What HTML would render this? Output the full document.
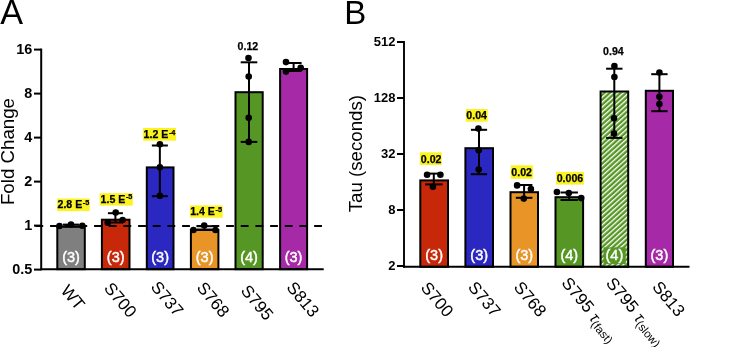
<!DOCTYPE html><html><head><meta charset="utf-8"><style>html,body{margin:0;padding:0;background:#fff;width:742px;height:347px;overflow:hidden}svg{display:block;will-change:transform}text{font-family:"Liberation Sans",sans-serif}</style></head><body>
<svg width="742" height="347" viewBox="0 0 742 347">
<defs><pattern id="hatch" patternUnits="userSpaceOnUse" width="3.65" height="10" patternTransform="rotate(48)"><rect width="3.65" height="10" fill="#569624"/><rect x="0" y="0" width="1.3" height="10" fill="#fff"/></pattern></defs>
<text x="0.2" y="23.8" font-size="34.2">A</text>
<text x="344.3" y="23.8" font-size="33">B</text>
<rect x="57.30" y="226.60" width="27.50" height="42.60" fill="#7f7f7f" stroke="#000" stroke-width="2"/>
<text x="71.05" y="261.8" font-size="14.5" fill="#fff" stroke="#fff" stroke-width="0.45" text-anchor="middle">(3)</text>
<rect x="101.90" y="219.70" width="27.60" height="49.50" fill="#c8280a" stroke="#000" stroke-width="2"/>
<text x="115.70" y="261.8" font-size="14.5" fill="#fff" stroke="#fff" stroke-width="0.45" text-anchor="middle">(3)</text>
<rect x="146.80" y="167.40" width="26.70" height="101.80" fill="#2a28c0" stroke="#000" stroke-width="2"/>
<text x="160.15" y="261.8" font-size="14.5" fill="#fff" stroke="#fff" stroke-width="0.45" text-anchor="middle">(3)</text>
<rect x="190.90" y="230.00" width="27.50" height="39.20" fill="#e89426" stroke="#000" stroke-width="2"/>
<text x="204.65" y="261.8" font-size="14.5" fill="#fff" stroke="#fff" stroke-width="0.45" text-anchor="middle">(3)</text>
<rect x="235.50" y="92.20" width="27.20" height="177.00" fill="#569624" stroke="#000" stroke-width="2"/>
<text x="249.10" y="261.8" font-size="14.5" fill="#fff" stroke="#fff" stroke-width="0.45" text-anchor="middle">(4)</text>
<rect x="280.10" y="69.00" width="27.00" height="200.20" fill="#a62aa8" stroke="#000" stroke-width="2"/>
<text x="293.60" y="261.8" font-size="14.5" fill="#fff" stroke="#fff" stroke-width="0.45" text-anchor="middle">(3)</text>
<line x1="115.40" y1="213.20" x2="115.40" y2="222.50" stroke="#000" stroke-width="2"/>
<line x1="107.90" y1="213.20" x2="122.90" y2="213.20" stroke="#000" stroke-width="2"/>
<line x1="107.90" y1="222.50" x2="122.90" y2="222.50" stroke="#000" stroke-width="2"/>
<line x1="159.85" y1="145.50" x2="159.85" y2="196.20" stroke="#000" stroke-width="2"/>
<line x1="151.85" y1="145.50" x2="167.85" y2="145.50" stroke="#000" stroke-width="2"/>
<line x1="151.85" y1="196.20" x2="167.85" y2="196.20" stroke="#000" stroke-width="2"/>
<line x1="249.00" y1="62.30" x2="249.00" y2="141.90" stroke="#000" stroke-width="2"/>
<line x1="240.70" y1="62.30" x2="257.30" y2="62.30" stroke="#000" stroke-width="2"/>
<line x1="240.70" y1="141.90" x2="257.30" y2="141.90" stroke="#000" stroke-width="2"/>
<line x1="293.60" y1="63.00" x2="293.60" y2="71.00" stroke="#000" stroke-width="2"/>
<line x1="285.60" y1="63.00" x2="301.60" y2="63.00" stroke="#000" stroke-width="2"/>
<line x1="285.60" y1="71.00" x2="301.60" y2="71.00" stroke="#000" stroke-width="2"/>
<line x1="71.00" y1="224.60" x2="71.00" y2="226.60" stroke="#000" stroke-width="2"/>
<line x1="63.00" y1="224.60" x2="79.00" y2="224.60" stroke="#000" stroke-width="2"/>
<line x1="63.00" y1="226.60" x2="79.00" y2="226.60" stroke="#000" stroke-width="2"/>
<line x1="204.50" y1="226.20" x2="204.50" y2="229.50" stroke="#000" stroke-width="2"/>
<line x1="196.50" y1="226.20" x2="212.50" y2="226.20" stroke="#000" stroke-width="2"/>
<line x1="196.50" y1="229.50" x2="212.50" y2="229.50" stroke="#000" stroke-width="2"/>
<line x1="35.40" y1="226.00" x2="322.40" y2="226.00" stroke="#000" stroke-width="2" stroke-dasharray="7.8 6.87"/>
<circle cx="59.50" cy="226.00" r="3.3" fill="#000"/>
<circle cx="71.00" cy="224.50" r="3.3" fill="#000"/>
<circle cx="82.30" cy="225.70" r="3.3" fill="#000"/>
<circle cx="115.70" cy="212.50" r="3.3" fill="#000"/>
<circle cx="122.60" cy="220.10" r="3.3" fill="#000"/>
<circle cx="107.70" cy="222.80" r="3.3" fill="#000"/>
<circle cx="159.90" cy="144.30" r="3.3" fill="#000"/>
<circle cx="159.90" cy="167.30" r="3.3" fill="#000"/>
<circle cx="159.90" cy="195.70" r="3.3" fill="#000"/>
<circle cx="193.40" cy="230.00" r="3.3" fill="#000"/>
<circle cx="204.20" cy="225.50" r="3.3" fill="#000"/>
<circle cx="215.50" cy="230.00" r="3.3" fill="#000"/>
<circle cx="248.50" cy="58.00" r="3.3" fill="#000"/>
<circle cx="248.70" cy="76.50" r="3.3" fill="#000"/>
<circle cx="248.70" cy="117.70" r="3.3" fill="#000"/>
<circle cx="248.70" cy="141.90" r="3.3" fill="#000"/>
<circle cx="286.00" cy="62.10" r="3.3" fill="#000"/>
<circle cx="300.70" cy="67.70" r="3.3" fill="#000"/>
<circle cx="286.00" cy="71.60" r="3.3" fill="#000"/>
<line x1="41.20" y1="48.60" x2="41.20" y2="270.20" stroke="#000" stroke-width="2.0"/>
<line x1="40.20" y1="269.20" x2="323.70" y2="269.20" stroke="#000" stroke-width="2.0"/>
<line x1="34.00" y1="49.60" x2="41.20" y2="49.60" stroke="#000" stroke-width="2"/>
<text x="32.2" y="54.3" font-size="14.4" font-weight="bold" text-anchor="end">16</text>
<line x1="34.00" y1="93.60" x2="41.20" y2="93.60" stroke="#000" stroke-width="2"/>
<text x="32.2" y="98.3" font-size="14.4" font-weight="bold" text-anchor="end">8</text>
<line x1="34.00" y1="137.60" x2="41.20" y2="137.60" stroke="#000" stroke-width="2"/>
<text x="32.2" y="142.3" font-size="14.4" font-weight="bold" text-anchor="end">4</text>
<line x1="34.00" y1="181.60" x2="41.20" y2="181.60" stroke="#000" stroke-width="2"/>
<text x="32.2" y="186.3" font-size="14.4" font-weight="bold" text-anchor="end">2</text>
<line x1="34.00" y1="225.60" x2="41.20" y2="225.60" stroke="#000" stroke-width="2"/>
<text x="32.2" y="230.3" font-size="14.4" font-weight="bold" text-anchor="end">1</text>
<line x1="34.00" y1="269.60" x2="41.20" y2="269.60" stroke="#000" stroke-width="2"/>
<text x="32.2" y="274.3" font-size="14.4" font-weight="bold" text-anchor="end">0.5</text>
<text transform="translate(14.1,151.55) rotate(-90)" font-size="18.7" text-anchor="middle">Fold Change</text>
<rect x="57.1" y="198.5" width="32.60" height="12.60" fill="#fbf422"/>
<text x="57.50" y="208.10" font-size="10.6" font-weight="bold" stroke="#000" stroke-width="0.25">2.8 E<tspan font-size="7.3" dx="0.6" dy="-3.4">-5</tspan></text>
<rect x="99.6" y="193.2" width="33.20" height="12.40" fill="#fbf422"/>
<text x="100.60" y="202.70" font-size="10.6" font-weight="bold" stroke="#000" stroke-width="0.25">1.5 E<tspan font-size="7.3" dx="0.6" dy="-3.4">-5</tspan></text>
<rect x="143.1" y="128.0" width="32.90" height="12.70" fill="#fbf422"/>
<text x="143.60" y="138.30" font-size="10.6" font-weight="bold" stroke="#000" stroke-width="0.25">1.2 E<tspan font-size="7.3" dx="0.6" dy="-3.4">-4</tspan></text>
<rect x="189.9" y="205.4" width="32.80" height="12.30" fill="#fbf422"/>
<text x="190.20" y="215.40" font-size="10.6" font-weight="bold" stroke="#000" stroke-width="0.25">1.4 E<tspan font-size="7.3" dx="0.6" dy="-3.4">-5</tspan></text>
<text x="237.60" y="49.70" font-size="10.6" font-weight="bold" stroke="#000" stroke-width="0.25">0.12</text>
<text transform="translate(59.95,290.9) rotate(50)" font-size="17">WT</text>
<text transform="translate(103.2,288.4) rotate(50)" font-size="17">S700</text>
<text transform="translate(150.0,287.2) rotate(50)" font-size="17">S737</text>
<text transform="translate(196.0,288.0) rotate(50)" font-size="17">S768</text>
<text transform="translate(240.0,291.0) rotate(50)" font-size="17">S795</text>
<text transform="translate(285.7,287.85) rotate(50)" font-size="17">S813</text>
<rect x="420.30" y="180.40" width="27.70" height="86.40" fill="#c8280a" stroke="#000" stroke-width="2"/>
<text x="434.15" y="259.8" font-size="14.5" fill="#fff" stroke="#fff" stroke-width="0.45" text-anchor="middle">(3)</text>
<rect x="465.40" y="148.20" width="27.60" height="118.60" fill="#2a28c0" stroke="#000" stroke-width="2"/>
<text x="479.20" y="259.8" font-size="14.5" fill="#fff" stroke="#fff" stroke-width="0.45" text-anchor="middle">(3)</text>
<rect x="510.50" y="192.20" width="27.50" height="74.60" fill="#e89426" stroke="#000" stroke-width="2"/>
<text x="524.25" y="259.8" font-size="14.5" fill="#fff" stroke="#fff" stroke-width="0.45" text-anchor="middle">(3)</text>
<rect x="555.50" y="197.20" width="27.60" height="69.60" fill="#569624" stroke="#000" stroke-width="2"/>
<text x="569.30" y="259.8" font-size="14.5" fill="#fff" stroke="#fff" stroke-width="0.45" text-anchor="middle">(4)</text>
<rect x="600.60" y="91.50" width="27.60" height="175.30" fill="url(#hatch)" stroke="#000" stroke-width="2"/>
<rect x="603.6" y="247.4" width="22.1" height="16.6" fill="#569624"/>
<text x="614.40" y="259.8" font-size="14.5" fill="#fff" stroke="#fff" stroke-width="0.45" text-anchor="middle">(4)</text>
<rect x="645.80" y="90.80" width="27.20" height="176.00" fill="#a62aa8" stroke="#000" stroke-width="2"/>
<text x="659.40" y="259.8" font-size="14.5" fill="#fff" stroke="#fff" stroke-width="0.45" text-anchor="middle">(3)</text>
<line x1="433.80" y1="173.60" x2="433.80" y2="184.40" stroke="#000" stroke-width="2"/>
<line x1="425.00" y1="173.60" x2="442.60" y2="173.60" stroke="#000" stroke-width="2"/>
<line x1="425.00" y1="184.40" x2="442.60" y2="184.40" stroke="#000" stroke-width="2"/>
<line x1="479.00" y1="129.80" x2="479.00" y2="174.20" stroke="#000" stroke-width="2"/>
<line x1="470.90" y1="129.80" x2="487.10" y2="129.80" stroke="#000" stroke-width="2"/>
<line x1="470.90" y1="174.20" x2="487.10" y2="174.20" stroke="#000" stroke-width="2"/>
<line x1="524.10" y1="185.00" x2="524.10" y2="197.80" stroke="#000" stroke-width="2"/>
<line x1="515.80" y1="185.00" x2="532.40" y2="185.00" stroke="#000" stroke-width="2"/>
<line x1="515.80" y1="197.80" x2="532.40" y2="197.80" stroke="#000" stroke-width="2"/>
<line x1="569.20" y1="192.50" x2="569.20" y2="200.00" stroke="#000" stroke-width="2"/>
<line x1="560.50" y1="192.50" x2="577.90" y2="192.50" stroke="#000" stroke-width="2"/>
<line x1="560.50" y1="200.00" x2="577.90" y2="200.00" stroke="#000" stroke-width="2"/>
<line x1="614.30" y1="68.70" x2="614.30" y2="137.90" stroke="#000" stroke-width="2"/>
<line x1="606.10" y1="68.70" x2="622.50" y2="68.70" stroke="#000" stroke-width="2"/>
<line x1="606.10" y1="137.90" x2="622.50" y2="137.90" stroke="#000" stroke-width="2"/>
<line x1="659.40" y1="74.20" x2="659.40" y2="111.20" stroke="#000" stroke-width="2"/>
<line x1="651.20" y1="74.20" x2="667.60" y2="74.20" stroke="#000" stroke-width="2"/>
<line x1="651.20" y1="111.20" x2="667.60" y2="111.20" stroke="#000" stroke-width="2"/>
<circle cx="427.10" cy="174.80" r="3.3" fill="#000"/>
<circle cx="440.40" cy="174.80" r="3.3" fill="#000"/>
<circle cx="432.90" cy="186.70" r="3.3" fill="#000"/>
<circle cx="478.40" cy="128.60" r="3.3" fill="#000"/>
<circle cx="478.70" cy="150.20" r="3.3" fill="#000"/>
<circle cx="478.70" cy="169.60" r="3.3" fill="#000"/>
<circle cx="517.10" cy="185.40" r="3.3" fill="#000"/>
<circle cx="530.90" cy="189.00" r="3.3" fill="#000"/>
<circle cx="523.80" cy="198.60" r="3.3" fill="#000"/>
<circle cx="556.90" cy="192.00" r="3.3" fill="#000"/>
<circle cx="568.80" cy="193.00" r="3.3" fill="#000"/>
<circle cx="581.20" cy="198.10" r="3.3" fill="#000"/>
<circle cx="614.40" cy="66.10" r="3.3" fill="#000"/>
<circle cx="614.40" cy="77.00" r="3.3" fill="#000"/>
<circle cx="614.00" cy="118.30" r="3.3" fill="#000"/>
<circle cx="614.00" cy="133.60" r="3.3" fill="#000"/>
<circle cx="659.40" cy="72.50" r="3.3" fill="#000"/>
<circle cx="659.40" cy="96.70" r="3.3" fill="#000"/>
<circle cx="659.40" cy="104.10" r="3.3" fill="#000"/>
<line x1="404.00" y1="41.00" x2="404.00" y2="267.80" stroke="#000" stroke-width="1.9"/>
<line x1="403.00" y1="266.80" x2="689.50" y2="266.80" stroke="#000" stroke-width="1.9"/>
<line x1="397.00" y1="42.00" x2="404.00" y2="42.00" stroke="#000" stroke-width="2"/>
<text x="395.5" y="46.1" font-size="13" font-weight="bold" text-anchor="end">512</text>
<line x1="397.00" y1="98.00" x2="404.00" y2="98.00" stroke="#000" stroke-width="2"/>
<text x="395.5" y="102.1" font-size="13" font-weight="bold" text-anchor="end">128</text>
<line x1="397.00" y1="154.00" x2="404.00" y2="154.00" stroke="#000" stroke-width="2"/>
<text x="395.5" y="158.1" font-size="13" font-weight="bold" text-anchor="end">32</text>
<line x1="397.00" y1="210.00" x2="404.00" y2="210.00" stroke="#000" stroke-width="2"/>
<text x="395.5" y="214.1" font-size="13" font-weight="bold" text-anchor="end">8</text>
<line x1="397.00" y1="266.00" x2="404.00" y2="266.00" stroke="#000" stroke-width="2"/>
<text x="395.5" y="270.1" font-size="13" font-weight="bold" text-anchor="end">2</text>
<text transform="translate(362.3,153.6) rotate(-90)" font-size="18.7" text-anchor="middle">Tau (seconds)</text>
<rect x="419.8" y="152.3" width="21.90" height="12.70" fill="#fbf422"/>
<text x="420.80" y="162.50" font-size="10.6" font-weight="bold" stroke="#000" stroke-width="0.25">0.02</text>
<rect x="465.8" y="109.0" width="21.90" height="12.70" fill="#fbf422"/>
<text x="466.30" y="119.20" font-size="10.6" font-weight="bold" stroke="#000" stroke-width="0.25">0.04</text>
<rect x="510.8" y="165.3" width="22.20" height="13.50" fill="#fbf422"/>
<text x="511.30" y="175.70" font-size="10.6" font-weight="bold" stroke="#000" stroke-width="0.25">0.02</text>
<rect x="556.1" y="171.9" width="27.80" height="12.70" fill="#fbf422"/>
<text x="556.70" y="181.50" font-size="10.6" font-weight="bold" stroke="#000" stroke-width="0.25">0.006</text>
<text x="603.10" y="54.90" font-size="10.6" font-weight="bold" stroke="#000" stroke-width="0.25">0.94</text>
<text transform="translate(420.0,287.9) rotate(50)" font-size="17">S700</text>
<text transform="translate(467.3,287.5) rotate(50)" font-size="17">S737</text>
<text transform="translate(513.0,287.6) rotate(50)" font-size="17">S768</text>
<text transform="translate(560.7,283.3) rotate(50)" font-size="17">S795<tspan dx="5.3" dy="1.1" font-size="16" font-style="italic">τ</tspan><tspan dx="-0.2" dy="2.5" font-size="11.5">(fast)</tspan></text>
<text transform="translate(605.3,283.4) rotate(50)" font-size="17">S795<tspan dx="5.3" dy="1.1" font-size="16" font-style="italic">τ</tspan><tspan dx="-0.2" dy="2.5" font-size="11.5">(slow)</tspan></text>
<text transform="translate(651.5,287.3) rotate(50)" font-size="17">S813</text>
</svg></body></html>
